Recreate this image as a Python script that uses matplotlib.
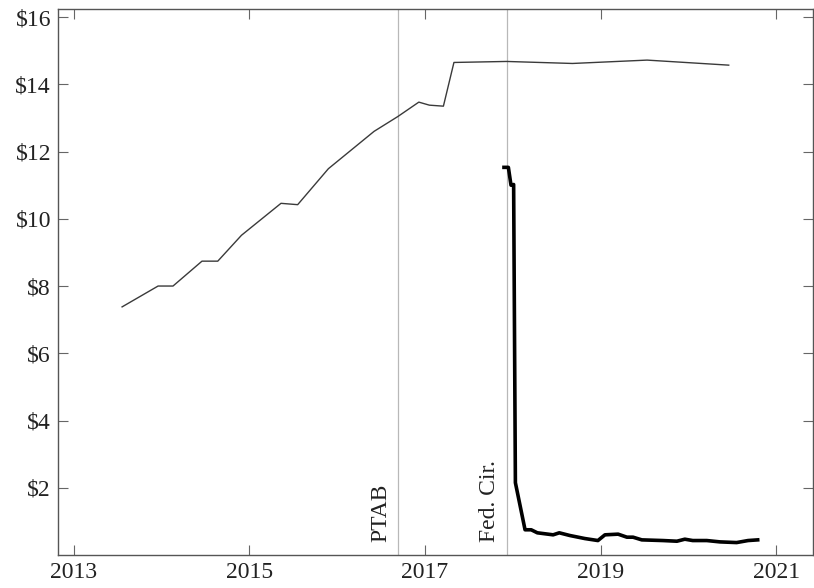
import numpy as np
import matplotlib
matplotlib.use("Agg")
import matplotlib.pyplot as plt
from matplotlib.ticker import FuncFormatter

plt.rcParams["font.family"] = ["Liberation Serif", "DejaVu Serif"]

# thin series (fractional year, dollars)
thin_x = [2013.55, 2013.96, 2014.13, 2014.46, 2014.64, 2014.91, 2015.36, 2015.55,
          2015.90, 2016.42, 2016.69, 2016.93, 2017.05, 2017.21, 2017.33, 2017.93,
          2018.68, 2019.53, 2020.46]
thin_y = [7.38, 8.0, 8.0, 8.74, 8.74, 9.51, 10.46, 10.42,
          11.49, 12.6, 13.04, 13.47, 13.38, 13.35, 14.65, 14.68,
          14.62, 14.72, 14.57]

# thick series
thick_x = [2017.90, 2017.95, 2017.98, 2018.01, 2018.03, 2018.14, 2018.21, 2018.28,
           2018.46, 2018.53, 2018.65, 2018.82, 2018.97, 2019.05, 2019.20, 2019.30,
           2019.37, 2019.47, 2019.71, 2019.87, 2019.96, 2020.05, 2020.21, 2020.36,
           2020.55, 2020.68, 2020.79]
thick_y = [11.53, 11.53, 11.0, 11.02, 2.15, 0.75, 0.75, 0.66,
           0.60, 0.66, 0.58, 0.49, 0.43, 0.60, 0.62, 0.53,
           0.53, 0.45, 0.43, 0.41, 0.47, 0.43, 0.43, 0.39,
           0.37, 0.43, 0.45]

events = [(2016.69, "PTAB"), (2017.93, "Fed. Cir.")]
x_ticks = [2013, 2015, 2017, 2019, 2021]
y_ticks = [2, 4, 6, 8, 10, 12, 14, 16]

fig = plt.figure(figsize=(8.14, 5.88), dpi=100)
ax = fig.add_axes([58 / 814, 1 - 555 / 588, (813 - 58) / 814, (555 - 9) / 588])

for xv, label in events:
    ax.axvline(xv, color="#b8b8b8", lw=0.9, zorder=1)
    ax.text(xv - 0.07, 0.4, label, rotation=90, ha="right", va="bottom",
            fontsize=17, color="#222222")

ax.plot(thin_x, thin_y, color="#3a3a3a", lw=1.0, zorder=2)
ax.plot(thick_x, thick_y, color="black", lw=2.6, zorder=3)

ax.set_xlim(2012.82, 2021.42)
ax.set_ylim(0.0, 16.24)
ax.set_xticks(x_ticks)
ax.set_yticks(y_ticks)
ax.yaxis.set_major_formatter(FuncFormatter(lambda v, p: f"${v:.0f}"))
ax.tick_params(direction="in", top=True, right=True, length=7, width=0.8,
               color="#666666", labelsize=17, labelcolor="#222222", pad=5)
for s in ax.spines.values():
    s.set_color("#555555")
    s.set_linewidth(1.0)

fig.savefig("out.png", dpi=100)
